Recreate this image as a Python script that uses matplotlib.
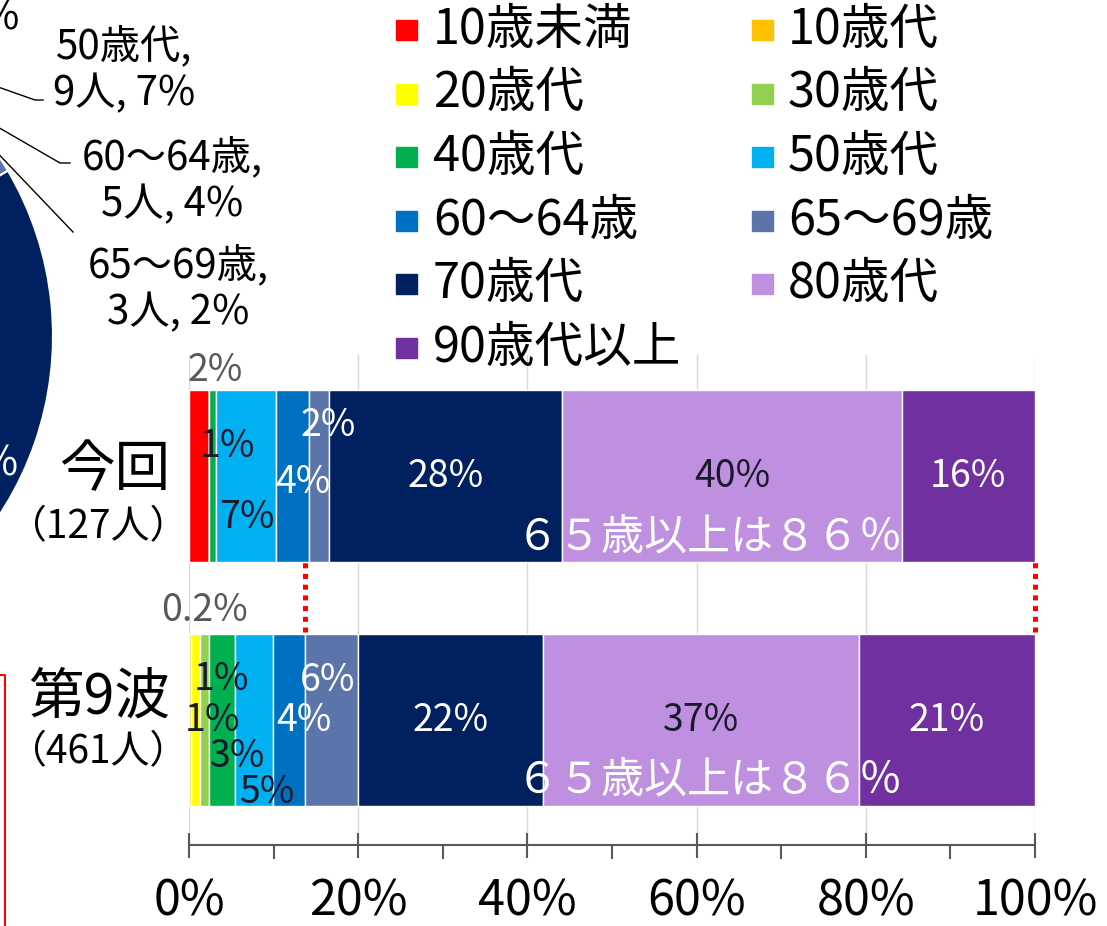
import numpy as np
import matplotlib.pyplot as plt
from matplotlib.lines import Line2D
from matplotlib.patches import Rectangle

plt.rcParams['font.family'] = ['Noto Sans CJK JP', 'DejaVu Sans']

W, H = 1107, 926

# age groups and colours
groups = ['10歳未満', '10歳代', '20歳代', '30歳代', '40歳代', '50歳代',
          '60～64歳', '65～69歳', '70歳代', '80歳代', '90歳代以上']
colors = ['#FF0000', '#FFC000', '#FFFF00', '#92D050', '#00B050', '#00B0F0',
          '#0070C0', '#5B74A9', '#002060', '#BF90E0', '#7030A0']

# number of people per age group
konkai = [3, 0, 0, 0, 1, 9, 5, 3, 35, 51, 20]          # 今回 (127人)
dai9 = [0, 1, 5, 5, 14, 21, 17, 29, 101, 172, 96]      # 第9波 (461人)

konkai_labels = ['2%', '', '', '', '1%', '7%', '4%', '2%', '28%', '40%', '16%']
dai9_labels = ['', '0.2%', '1%', '1%', '3%', '5%', '4%', '6%', '22%', '37%', '21%']

bar_names = ['第9波', '今回']
bar_n = ['（461人）', '（127人）']
over65_text = '６５歳以上は８６％'


def px(x, y):
    return x / W, 1 - y / H


fig = plt.figure(figsize=(W / 100, H / 100), dpi=100)

# ---- pie (mostly outside the picture) ----
cx, cy, r = -273, 336, 326
axp = fig.add_axes([(cx - r) / W, (H - cy - r) / H, 2 * r / W, 2 * r / H])
wedges, _ = axp.pie(konkai, colors=colors, startangle=90, counterclock=False,
                    wedgeprops=dict(edgecolor='white', linewidth=1.5))
axp.set_xlim(-1, 1)
axp.set_ylim(-1, 1)
axp.axis('off')

total = sum(konkai)
pie_txt = {}
for i, g in enumerate(groups):
    if konkai[i] > 0:
        pie_txt[i] = f'{g},\n{konkai[i]}人, {round(konkai[i] / total * 100)}%'

# label position (px) and leader elbow for the labels
pie_pos = {4: (-52, -6, None), 5: (124, 70, [(35, 100), (43, 100)]),
           6: (172, 181, [(60, 163), (70, 163)]), 7: (178, 289, [(73, 232)])}
for i, (tx, ty, elbow) in pie_pos.items():
    fig.text(*px(tx, ty), pie_txt[i], ha='center', va='center', fontsize=29,
             linespacing=1.15, color='black')
    if elbow:
        w = wedges[i]
        a = np.deg2rad((w.theta1 + w.theta2) / 2)
        ex, ey = cx + r * np.cos(a), cy - r * np.sin(a)
        pts = [(ex, ey)] + elbow
        fig.add_artist(Line2D([p[0] / W for p in pts], [1 - p[1] / H for p in pts],
                              color='black', lw=1))
fig.text(*px(-75, 440), pie_txt[8], ha='center', va='center', fontsize=29,
         linespacing=1.15, color='white')

# ---- stacked bars ----
ax = fig.add_axes([189 / W, 1 - 845 / H, 846 / W, 490 / H])
data = np.array([dai9, konkai], dtype=float)
share = data / data.sum(axis=1, keepdims=True) * 100
left = np.zeros(2)
ypos = np.arange(2)
bh = 0.705
centers = np.zeros_like(share)
for i, g in enumerate(groups):
    ax.barh(ypos, share[:, i], left=left, height=bh, color=colors[i],
            edgecolor='white', linewidth=1, zorder=2)
    centers[:, i] = left + share[:, i] / 2
    left += share[:, i]

# label offsets from segment centre (x in %, y in bar units)
offs = [
    {1: (1.7, 0.451), 2: (2.0, 0.0), 3: (2.0, 0.168), 4: (1.8, -0.148),
     5: (1.5, -0.295), 6: (1.8, 0.0), 7: (-0.4, 0.164)},
    {0: (1.9, 0.434), 4: (1.8, 0.119), 5: (0.2, -0.168), 6: (1.3, -0.025),
     7: (1.05, 0.209)},
]
white_lab = {6, 7, 8, 10}
for b, labs in enumerate([dai9_labels, konkai_labels]):
    for i, lab in enumerate(labs):
        if not lab:
            continue
        dx, dy = offs[b].get(i, (0, 0))
        if abs(dy) > bh / 2:
            col = '#595959'
        elif i in white_lab:
            col = 'white'
        else:
            col = '#1a1a2a'
        ax.text(centers[b, i] + dx, ypos[b] + dy, lab, ha='center', va='center',
                fontsize=27, color=col, zorder=4)

ax.text(61.5, 0.75, over65_text, ha='center', va='center', fontsize=31,
        color='white', zorder=5)
ax.text(61.5, -0.246, over65_text, ha='center', va='center', fontsize=31,
        color='white', zorder=5)

# red dotted markers of the 65+ range
x65 = share[0, :7].sum()
for xv in [x65, 100]:
    ax.plot([xv, xv], [0.361, 0.65], color='red', lw=3.6,
            linestyle=(0, (1, 1.14)), clip_on=False, zorder=3)

ax.set_xlim(0, 100)
ax.set_ylim(-0.512, 1.496)
ax.set_yticks([])
ax.set_xticks(range(0, 101, 20))
ax.set_xticklabels([f'{v}%' for v in range(0, 101, 20)])
ax.set_xticks(range(10, 100, 20), minor=True)
ax.tick_params(axis='x', which='major', direction='inout', length=18, width=1.5,
               color='#595959', labelsize=35, pad=14)
ax.tick_params(axis='x', which='minor', direction='out', length=10, width=1.5,
               color='#595959')
ax.grid(axis='x', color='#d9d9d9', lw=1, zorder=0)
ax.set_axisbelow(True)
for s in ['top', 'right', 'left']:
    ax.spines[s].set_visible(False)
ax.spines['bottom'].set_color('#595959')
ax.spines['bottom'].set_linewidth(1.5)

# category names at the left
name_y = [0.09, 1.025]
n_y = [-0.131, 0.79]
for b in range(2):
    ax.text(-2.2, name_y[b], bar_names[b], ha='right', va='center',
            fontsize=40, clip_on=False)
    ax.text(0.0, n_y[b], bar_n[b], ha='right', va='center',
            fontsize=28, clip_on=False)

# ---- legend ----
for k, g in enumerate(groups):
    row, col = k // 2, k % 2
    yc = 30 + row * 63.6
    mx = 396 + col * 356
    fig.add_artist(Rectangle(px(mx, yc + 10), 21 / W, 20 / H, color=colors[k],
                             transform=fig.transFigure))
    fig.text(*px(433 + col * 355, yc), g, ha='left', va='center', fontsize=35)

# red frame on the left
fig.add_artist(Line2D([0, 5 / W, 5 / W], [1 - 675 / H, 1 - 675 / H, 0],
                      color='red', lw=1.5))

plt.savefig('out.png', dpi=100)
